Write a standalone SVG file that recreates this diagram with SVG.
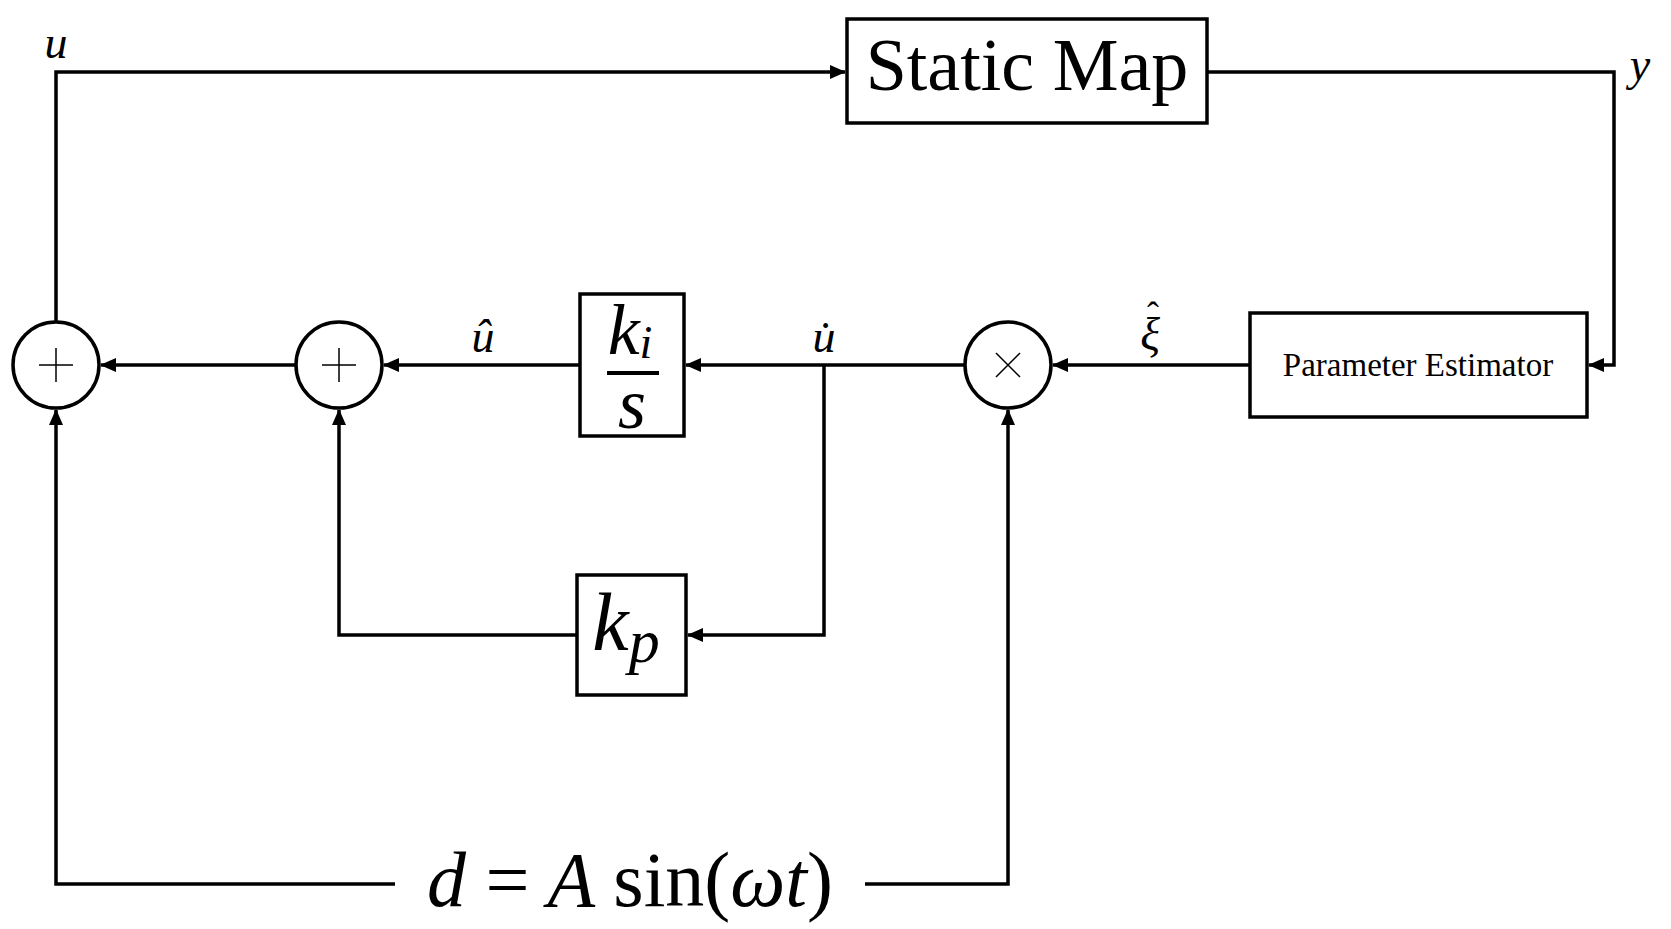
<svg xmlns="http://www.w3.org/2000/svg" width="1671" height="929" viewBox="0 0 1671 929">
<style>
.b{fill:white;stroke:black;stroke-width:3.5}
.c{fill:none;stroke:black;stroke-width:3.5}
.t{font-family:"Liberation Serif",serif;fill:black}
.m{font-family:"Liberation Serif",serif;font-style:italic;fill:black}
</style>
<defs><marker id="a" markerWidth="16" markerHeight="14" refX="15" refY="7" orient="auto" markerUnits="userSpaceOnUse"><path d="M0,0 L16,7 L0,14 z" fill="black"/></marker></defs>
<rect width="1671" height="929" fill="white"/>
<g id="connectors" class="c">
<path d="M56,321 V72 H845" marker-end="url(#a)"/>
<path d="M1207,72 H1614 V365 H1589" marker-end="url(#a)"/>
<path d="M1250,365 H1053" marker-end="url(#a)"/>
<path d="M965,365 H686" marker-end="url(#a)"/>
<path d="M580,365 H384" marker-end="url(#a)"/>
<path d="M296,365 H101" marker-end="url(#a)"/>
<path d="M824,365 V635 H688" marker-end="url(#a)"/>
<path d="M577,635 H339 V410" marker-end="url(#a)"/>
<path d="M395,884 H56 V410" marker-end="url(#a)"/>
<path d="M865,884 H1008 V410" marker-end="url(#a)"/>
</g>
<g id="staticmap"><rect class="b" x="847" y="19" width="360" height="104"/><text class="t" x="1027" y="90" font-size="74" text-anchor="middle">Static Map</text></g>
<g id="estimator"><rect class="b" x="1250" y="313" width="337" height="104"/><text class="t" x="1418" y="376" font-size="33" text-anchor="middle">Parameter Estimator</text></g>
<g id="mult"><circle class="b" cx="1008" cy="365" r="43"/><path d="M996,353 L1020,377 M1020,353 L996,377" stroke="black" stroke-width="1.5"/></g>
<g id="sum2"><circle class="b" cx="339" cy="365" r="43"/><path d="M322,365 H356 M339,348 V382" stroke="black" stroke-width="1.5"/></g>
<g id="sum1"><circle class="b" cx="56" cy="365" r="43"/><path d="M39,365 H73 M56,348 V382" stroke="black" stroke-width="1.5"/></g>
<g id="ki"><rect class="b" x="580" y="294" width="104" height="142"/><text class="m" x="630" y="354" font-size="72" text-anchor="middle">k<tspan font-size="46" dy="4">i</tspan></text><line x1="607" y1="373" x2="659" y2="373" stroke="black" stroke-width="4"/><text class="m" x="632" y="428" font-size="72" text-anchor="middle">s</text></g>
<g id="kp"><rect class="b" x="577" y="575" width="109" height="120"/><text class="m" x="626" y="650" font-size="82" text-anchor="middle">k<tspan font-size="62" dy="12">p</tspan></text></g>
<g id="labels">
<text class="m" x="56" y="58" font-size="46" text-anchor="middle">u</text>
<text class="m" x="1640" y="80" font-size="46" text-anchor="middle">y</text>
<text class="m" x="483" y="352" font-size="46" text-anchor="middle">û</text>
<text class="m" x="824" y="352" font-size="46" text-anchor="middle">u̇</text>
<text class="m" x="1150" y="350" font-size="46" text-anchor="middle">ξ</text>
<text class="t" x="1153" y="327" font-size="36" text-anchor="middle">ˆ</text>
<text class="m" x="630" y="906" font-size="78" text-anchor="middle">d <tspan font-style="normal">=</tspan>  A <tspan font-style="normal">sin(</tspan>ωt<tspan font-style="normal">)</tspan></text>
</g>
</svg>
